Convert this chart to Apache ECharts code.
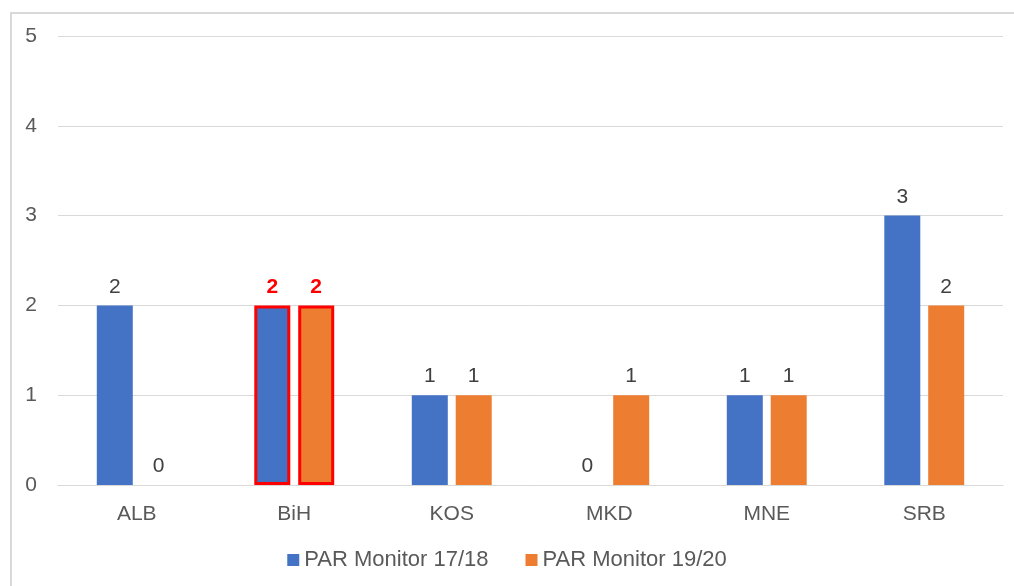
<!DOCTYPE html>
<html>
<head>
<meta charset="utf-8">
<script src="https://cdn.jsdelivr.net/npm/echarts@6/dist/echarts.min.js"></script>
<style>
html,body{margin:0;padding:0;background:#fff;}
#chart{width:1014px;height:586px;}
</style>
</head>
<body>
<div id="chart"></div>
<script>
const categories = ['ALB', 'BiH', 'KOS', 'MKD', 'MNE', 'SRB'];
const series1Name = 'PAR Monitor 17/18';
const series2Name = 'PAR Monitor 19/20';
const series1Values = [2, 2, 1, 0, 1, 3];
const series2Values = [0, 2, 1, 1, 1, 2];
const highlighted = ['BiH'];

const font = '"Liberation Sans", Arial, sans-serif';

function buildData(values) {
  return values.map((v, i) => {
    if (highlighted.includes(categories[i])) {
      return {
        value: v,
        itemStyle: { borderColor: '#ff0000', borderWidth: 3 },
        label: { color: '#ff0000', fontWeight: 'bold' }
      };
    }
    return v;
  });
}

const labelCfg = {
  show: true,
  position: 'top',
  distance: 8,
  fontSize: 21,
  fontFamily: font,
  color: '#404040'
};

const chart = echarts.init(document.getElementById('chart'), null, { renderer: 'canvas' });
chart.setOption({
  animation: false,
  backgroundColor: '#fff',
  graphic: [{
    type: 'rect',
    shape: { x: 11, y: 13, width: 1020, height: 600 },
    style: { fill: 'none', stroke: '#d9d9d9', lineWidth: 2 },
    silent: true
  }],
  grid: { left: 58, right: 11, top: 36, bottom: 101, containLabel: false },
  legend: {
    data: [series1Name, series2Name],
    bottom: 10,
    left: 'center',
    itemWidth: 12,
    itemHeight: 12,
    itemGap: 37,
    icon: 'rect',
    textStyle: { fontSize: 22, fontFamily: font, color: '#595959' }
  },
  xAxis: {
    type: 'category',
    data: categories,
    axisLine: { show: true, lineStyle: { color: '#d9d9d9', width: 1 } },
    axisTick: { show: false },
    axisLabel: { fontSize: 21, fontFamily: font, color: '#595959', margin: 19 }
  },
  yAxis: {
    type: 'value',
    min: 0,
    max: 5,
    interval: 1,
    axisLine: { show: false },
    axisTick: { show: false },
    splitLine: { lineStyle: { color: '#d9d9d9', width: 1 } },
    axisLabel: { fontSize: 21, fontFamily: font, color: '#595959', margin: 21 }
  },
  series: [
    {
      name: series1Name,
      type: 'bar',
      data: buildData(series1Values),
      barWidth: 36,
      barGap: '22%',
      itemStyle: { color: '#4472c4' },
      label: labelCfg
    },
    {
      name: series2Name,
      type: 'bar',
      data: buildData(series2Values),
      barWidth: 36,
      barGap: '22%',
      itemStyle: { color: '#ed7d31' },
      label: labelCfg
    }
  ]
});
</script>
</body>
</html>
